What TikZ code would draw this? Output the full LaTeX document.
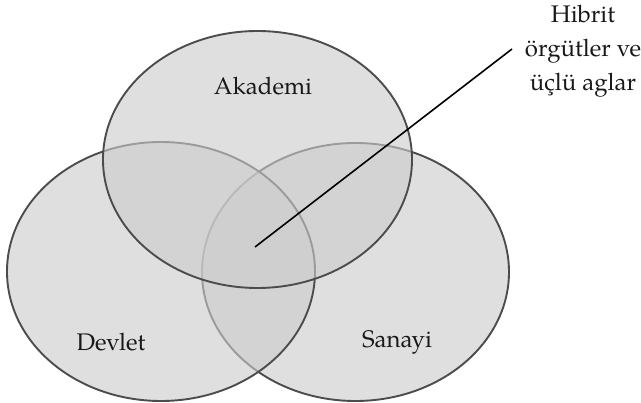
\documentclass[tikz,border=0pt]{standalone}
\usepackage{fontspec}
\setmainfont{TeX Gyre Pagella}
\begin{document}
\begin{tikzpicture}[x=1pt,y=-1pt,
  venn/.style={fill=black!20, fill opacity=0.62, draw=black!70, line width=1.9pt},
  lbl/.style={font=\fontsize{24}{34}\selectfont, text=black!90, inner sep=0pt},
]
\useasboundingbox (0,0) rectangle (641,403);
% right ellipse (Sanayi) first, then left (Devlet), then top (Akademi)
\draw[venn] (355.5,272) ellipse [x radius=153.5, y radius=129];
\draw[venn] (161,271.5) ellipse [x radius=154, y radius=129.5];
\draw[venn] (257.5,159.5) ellipse [x radius=154.5, y radius=128.5];
\node[lbl] (ak) at (263,86) {Akademi};
\node[lbl] (dv) at (111,342) {Devlet};
\node[lbl] (sn) at (397,342) {Sanayi};
\node[lbl, align=center] (hb) at (583,51) {Hibrit\\örgütler ve\\üçlü aglar};
\coordinate (c) at (255,247);
\coordinate (e) at (512,49);
\draw[black, line width=1.6pt] (c) -- (e);
\end{tikzpicture}
\end{document}
